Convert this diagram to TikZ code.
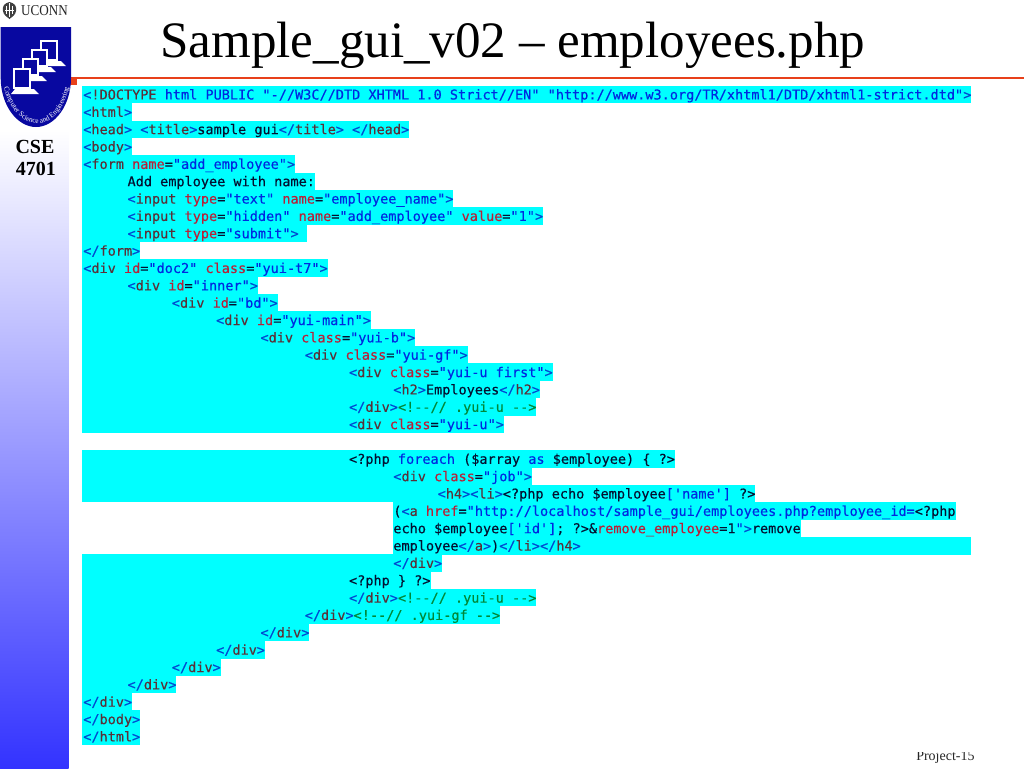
\documentclass[tikz,border=0pt]{standalone}
\usepackage{fontspec}
\usetikzlibrary{decorations.text}
\setmainfont{Liberation Serif}
\newfontfamily\codefont[FakeBold=0.3]{DejaVu Sans Mono}
\definecolor{hlcyan}{HTML}{00FFFF}
\definecolor{brk}{HTML}{0048D0}
\definecolor{tagn}{HTML}{5A3038}
\definecolor{attn}{HTML}{B82038}
\definecolor{valc}{HTML}{0028E0}
\definecolor{cmt}{HTML}{008838}
\definecolor{txtc}{HTML}{041030}
\definecolor{shieldc}{HTML}{0808A0}
\definecolor{barc}{HTML}{3333FF}
\definecolor{rulec}{HTML}{E8401A}
\newcommand{\Op}[1]{\textcolor{brk}{<}\textcolor{tagn}{#1}}
\newcommand{\Cl}[1]{\textcolor{brk}{</}\textcolor{tagn}{#1}\textcolor{brk}{>}}
\newcommand{\Gt}{\textcolor{brk}{>}}
\newcommand{\At}[2]{\textcolor{attn}{#1}\textcolor{txtc}{=}\textcolor{valc}{"#2"}}
\newcommand{\Cm}[1]{\textcolor{cmt}{#1}}
\newcommand{\Kw}[1]{\textcolor{valc}{#1}}
\newcommand{\Ph}[1]{\textcolor{txtc}{#1}}
\tikzset{
  codeline/.style={fill=hlcyan,anchor=west,inner xsep=0pt,inner ysep=0pt,text height=10.2pt,text depth=2.9pt,font=\codefont\fontsize{10.15pt}{13pt}\selectfont,text=txtc},
  bigtitle/.style={anchor=base west,inner sep=0pt,font=\fontsize{38.3pt}{42pt}\selectfont},
  labelcse/.style={anchor=base,inner sep=0pt,font=\bfseries\fontsize{15pt}{18pt}\selectfont},
  monitor/.style={draw=white,fill=shieldc,line width=1.9pt},
  monbase/.style={fill=white,draw=none}
}
\newcommand{\Cline}[4]{% name, indent level, row, text
  \pgfmathsetmacro{\cx}{83+44.3*#2}
  \pgfmathsetmacro{\cy}{94.6+17.35*#3}
  \fill[hlcyan] (82,\cy-8.8) rectangle (\cx+.5,\cy+8.8);
  \node[codeline] (#1) at (\cx,\cy) {#4};}
\newcommand{\Clinefree}[4]{%
  \pgfmathsetmacro{\cx}{83+44.3*#2}
  \pgfmathsetmacro{\cy}{94.6+17.35*#3}
  \node[codeline] (#1) at (\cx,\cy) {#4};}
\begin{document}
\begin{tikzpicture}[x=0.75pt,y=-0.75pt]
\useasboundingbox (0,0) rectangle (1024,768);
\fill[white] (0,0) rectangle (1024,768);
% side bar
\shade[top color=white,bottom color=barc] (0,130) rectangle (68.5,768);
% rule
\fill[rulec] (68,76.8) rectangle (1024,78.6);
\fill[rulec] (67,77) rectangle (77,85);
% UCONN logo
\fill[black!75] (9.5,2) .. controls (4,3) and (2,7) .. (3,11) .. controls (3.5,15) and (7,17) .. (9.5,19) .. controls (12,17) and (15.5,15) .. (16,11) .. controls (17,7) and (15,3) .. (9.5,2) -- cycle;
\draw[white,line width=.5pt] (9.5,3) -- (9.5,17) (6.5,6) -- (6.5,14) (12.5,6) -- (12.5,14) (5,10) -- (14,10);
\node[anchor=base west,inner sep=0pt,xscale=.87,font=\fontsize{11.3pt}{12pt}\selectfont,text=black!85] (uconn) at (21,15.5) {UCONN};
% shield
\fill[shieldc] (0.7,27) -- (71,27) -- (71,78) .. controls (71,105) and (55,127) .. (36,127) .. controls (17,127) and (0.7,105) .. (0.7,78) -- cycle;
% computers
\foreach \mx/\my/\mw/\mh in {41/41/16/19,32/50/15/16,23/59/15/16,14/69/16/19}{
  \fill[monbase] (\mx+1,\my+\mh+1) -- (\mx+\mw+4,\my+\mh+1) -- (\mx+\mw+9,\my+\mh+6) -- (\mx-3,\my+\mh+6) -- cycle;
  \draw[monitor] (\mx,\my) rectangle (\mx+\mw,\my+\mh);
}
% curved label
\path[decorate,decoration={text along path,text align=center,raise=0pt,
  text={|\fontsize{5.5pt}{6pt}\selectfont\color{white}|Computer Science and Engineering}}]
  (3.5,86) .. controls (8,107) and (22,123.5) .. (37,123.5) .. controls (52,123.5) and (66,107) .. (69,86);
% CSE
\node[labelcse] (cse) at (35,153) {CSE};
\node[labelcse] (num) at (36,175.5) {4701};
% title
\node[bigtitle] (title) at (160,57) {Sample\_gui\_v02 – employees.php};
% code
\Cline{l0}{0}{0}{\Op{!DOCTYPE} \Kw{html PUBLIC "-//W3C//DTD XHTML 1.0 Strict//EN" "http://www.w3.org/TR/xhtml1/DTD/xhtml1-strict.dtd"}\Gt}
\Cline{l1}{0}{1}{\Op{html}\Gt}
\Cline{l2}{0}{2}{\Op{head}\Gt{} \Op{title}\Gt sample gui\Cl{title} \Cl{head}}
\Cline{l3}{0}{3}{\Op{body}\Gt}
\Cline{l4}{0}{4}{\Op{form} \At{name}{add\_employee}\Gt}
\Cline{l5}{1}{5}{Add employee with name:}
\Cline{l6}{1}{6}{\Op{input} \At{type}{text} \At{name}{employee\_name}\Gt}
\Cline{l7}{1}{7}{\Op{input} \At{type}{hidden} \At{name}{add\_employee} \At{value}{1}\Gt}
\Cline{l8}{1}{8}{\Op{input} \At{type}{submit}\Gt\char32}
\Cline{l9}{0}{9}{\Cl{form}}
\Cline{l10}{0}{10}{\Op{div} \At{id}{doc2} \At{class}{yui-t7}\Gt}
\Cline{l11}{1}{11}{\Op{div} \At{id}{inner}\Gt}
\Cline{l12}{2}{12}{\Op{div} \At{id}{bd}\Gt}
\Cline{l13}{3}{13}{\Op{div} \At{id}{yui-main}\Gt}
\Cline{l14}{4}{14}{\Op{div} \At{class}{yui-b}\Gt}
\Cline{l15}{5}{15}{\Op{div} \At{class}{yui-gf}\Gt}
\Cline{l16}{6}{16}{\Op{div} \At{class}{yui-u first}\Gt}
\Cline{l17}{7}{17}{\Op{h2}\Gt Employees\Cl{h2}}
\Cline{l18}{6}{18}{\Cl{div}\Cm{<!--// .yui-u -->}}
\Cline{l19}{6}{19}{\Op{div} \At{class}{yui-u}\Gt}
\Cline{l21}{6}{21}{\Ph{<?php} \Kw{foreach} \Ph{(\$array} \Kw{as} \Ph{\$employee) \{ ?>}}
\Cline{l22}{7}{22}{\Op{div} \At{class}{job}\Gt}
\Cline{l23}{8}{23}{\Op{h4}\Gt\Op{li}\Gt\Ph{<?php echo \$employee}\Kw{['name']} \Ph{?>}}
\Clinefree{l24}{7}{24}{\Ph{(}\Op{a} \textcolor{attn}{href}\Ph{=}\textcolor{valc}{"http://localhost/sample\_gui/employees.php?employee\_id=}\Ph{<?php}}
\Clinefree{l25}{7}{25}{\Ph{echo \$employee}\Kw{['id']}\Ph{; ?>\&}\textcolor{attn}{remove\_employee}\Ph{=1}\textcolor{valc}{"}\Gt\Ph{remove}}
\pgfmathsetmacro{\cy}{94.6+17.35*26}
\fill[hlcyan] (394,\cy-8.8) rectangle (971,\cy+8.8);
\Clinefree{l26}{7}{26}{\Ph{employee}\Cl{a}\Ph{)}\Cl{li}\Cl{h4}}
\Cline{l27}{7}{27}{\Cl{div}}
\Cline{l28}{6}{28}{\Ph{<?php \} ?>}}
\Cline{l29}{6}{29}{\Cl{div}\Cm{<!--// .yui-u -->}}
\Cline{l30}{5}{30}{\Cl{div}\Cm{<!--// .yui-gf -->}}
\Cline{l31}{4}{31}{\Cl{div}}
\Cline{l32}{3}{32}{\Cl{div}}
\Cline{l33}{2}{33}{\Cl{div}}
\Cline{l34}{1}{34}{\Cl{div}}
\Cline{l35}{0}{35}{\Cl{div}}
\Cline{l36}{0}{36}{\Cl{body}}
\Cline{l37}{0}{37}{\Cl{html}}
% page label, cut along its top in the reference
\begin{scope}
\clip (900,752) rectangle (1000,768);
\node[anchor=base west,inner sep=0pt,font=\fontsize{10.5pt}{12pt}\selectfont,text=black!85] (page) at (916,760) {Project-15};
\end{scope}
\end{tikzpicture}
\end{document}
